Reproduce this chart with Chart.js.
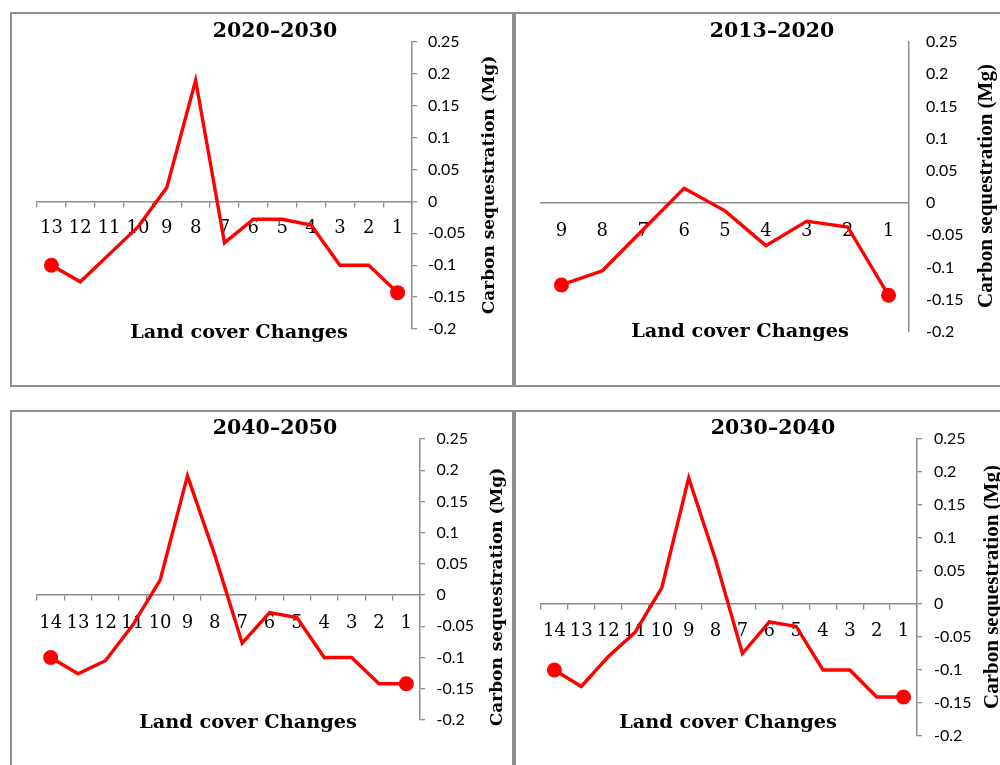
<!DOCTYPE html>
<html>
<head>
<meta charset="utf-8">
<script src="https://cdn.jsdelivr.net/npm/chart.js@4/dist/chart.umd.min.js"></script>
<style>
  html, body { margin: 0; padding: 0; background: #fff; width: 1000px; height: 765px; overflow: hidden; position: relative; }
  .panel { position: absolute; border: 2px solid #8e8e8e; box-sizing: border-box; background: #fff; }
  canvas.plot { position: absolute; }
</style>
</head>
<body>
<div class="panel" style="left:10px;top:12px;width:504px;height:375px"></div>
<div class="panel" style="left:514px;top:12px;width:500px;height:375px"></div>
<div class="panel" style="left:10px;top:410px;width:504px;height:375px"></div>
<div class="panel" style="left:514px;top:410px;width:500px;height:375px"></div>

<canvas class="plot" id="c2020" width="500" height="371" style="left:12px;top:14px"></canvas>
<canvas class="plot" id="c2013" width="496" height="371" style="left:516px;top:14px"></canvas>
<canvas class="plot" id="c2040" width="500" height="371" style="left:12px;top:412px"></canvas>
<canvas class="plot" id="c2030" width="496" height="371" style="left:516px;top:412px"></canvas>

<script>
// Land cover change classes (plotted in descending order) and carbon sequestration (Mg)
const cats2013 = ['9', '8', '7', '6', '5', '4', '3', '2', '1'];
const vals2013 = [-0.127, -0.105, -0.041, 0.023, -0.012, -0.066, -0.028, -0.037, -0.143];

const cats2020 = ['13', '12', '11', '10', '9', '8', '7', '6', '5', '4', '3', '2', '1'];
const vals2020 = [-0.1, -0.126, -0.083, -0.04, 0.022, 0.19, -0.065, -0.028, -0.028, -0.037, -0.1, -0.1, -0.143];

const cats2030 = ['14', '13', '12', '11', '10', '9', '8', '7', '6', '5', '4', '3', '2', '1'];
const vals2030 = [-0.1, -0.125, -0.08, -0.043, 0.025, 0.191, 0.067, -0.075, -0.027, -0.034, -0.1, -0.1, -0.141, -0.141];

const cats2040 = ['14', '13', '12', '11', '10', '9', '8', '7', '6', '5', '4', '3', '2', '1'];
const vals2040 = [-0.1, -0.126, -0.105, -0.048, 0.024, 0.191, 0.064, -0.077, -0.028, -0.036, -0.1, -0.1, -0.142, -0.142];

// Shared y-axis ticks
const yTickValues = [0.25, 0.2, 0.15, 0.1, 0.05, 0, -0.05, -0.1, -0.15, -0.2];
const yTickLabels = ['0.25', '0.2', '0.15', '0.1', '0.05', '0', '-0.05', '-0.1', '-0.15', '-0.2'];

const AXIS_GREY = '#8c8c8c';
const LINE_RED = '#ff0000';

// Draws the panel heading, the category axis caption and the rotated value-axis caption
const panelText = {
  id: 'panelText',
  afterDraw(chart, args, o) {
    const ctx = chart.ctx;
    ctx.save();
    ctx.fillStyle = '#000';
    ctx.textAlign = 'center';
    ctx.textBaseline = 'middle';
    ctx.font = o.titleFont;
    ctx.fillText(o.title, o.titleX, o.titleY);
    ctx.font = o.xTitleFont;
    ctx.fillText(o.xTitle, o.xTitleX, o.xTitleY);
    ctx.translate(o.yTitleX, o.yTitleY);
    ctx.rotate(-Math.PI / 2);
    ctx.font = o.yTitleFont;
    ctx.fillText(o.yTitle, 0, 0);
    ctx.restore();
  }
};

function makePanel(id, cats, vals, cfg) {
  const n = vals.length;
  return new Chart(document.getElementById(id), {
    type: 'line',
    data: {
      labels: cats,
      datasets: [{
        data: vals,
        borderColor: LINE_RED,
        backgroundColor: LINE_RED,
        borderWidth: 3.4,
        tension: 0,
        fill: false,
        pointRadius: ctx => (ctx.dataIndex === 0 || ctx.dataIndex === n - 1) ? 7.5 : 0,
        pointHoverRadius: 0,
        pointBorderWidth: 0,
        pointBackgroundColor: LINE_RED
      }]
    },
    options: {
      responsive: false,
      animation: false,
      devicePixelRatio: 1,
      layout: { padding: cfg.padding },
      plugins: {
        legend: { display: false },
        tooltip: { enabled: false },
        panelText: cfg.text
      },
      scales: {
        x: {
          type: 'category',
          position: { y: 0 },
          offset: true,
          grid: {
            drawOnChartArea: false,
            drawTicks: cfg.ticks,
            tickLength: 5,
            color: AXIS_GREY,
            lineWidth: 1.3,
            offset: true
          },
          border: { display: true, color: AXIS_GREY, width: 1.5 },
          ticks: {
            autoSkip: false,
            maxRotation: 0,
            minRotation: 0,
            padding: cfg.xPad,
            color: '#000',
            font: { family: '"DejaVu Serif"', size: 18 }
          }
        },
        y: {
          position: 'right',
          min: -0.2,
          max: 0.25,
          afterBuildTicks: s => { s.ticks = yTickValues.map(v => ({ value: v })); },
          afterFit: s => { s.width = 60; },
          grid: {
            drawOnChartArea: false,
            drawTicks: cfg.ticks,
            tickLength: 5,
            color: AXIS_GREY,
            lineWidth: 1.3
          },
          border: { display: true, color: AXIS_GREY, width: 1.5 },
          ticks: {
            padding: cfg.yPad,
            color: '#000',
            font: { family: 'Lato', size: 16 },
            callback: v => {
              const i = yTickValues.findIndex(t => Math.abs(t - v) < 1e-9);
              return i >= 0 ? yTickLabels[i] : '';
            }
          }
        }
      }
    },
    plugins: [panelText]
  });
}

const TITLE_FONT = 'bold 20.5px "DejaVu Serif"';
const XTITLE_FONT = 'bold 19.3px "DejaVu Serif"';
const YTITLE_FONT_A = 'bold 17px "DejaVu Serif"';
const YTITLE_FONT_B = 'bold 21px "Liberation Serif"';
const XTITLE = 'Land cover Changes';
const YTITLE = 'Carbon sequestration (Mg)';

makePanel('c2020', cats2020, vals2020, {
  padding: { left: 25, top: 28, bottom: 56, right: 40 },
  ticks: true, xPad: 11.5, yPad: 11,
  text: { title: '2020–2030', titleFont: TITLE_FONT, titleX: 263, titleY: 18,
          xTitle: XTITLE, xTitleFont: XTITLE_FONT, xTitleX: 227, xTitleY: 319,
          yTitle: YTITLE, yTitleFont: YTITLE_FONT_A, yTitleX: 478, yTitleY: 171 }
});

makePanel('c2013', cats2013, vals2013, {
  padding: { left: 25, top: 28, bottom: 53, right: 43 },
  ticks: false, xPad: 17, yPad: 17,
  text: { title: '2013–2020', titleFont: TITLE_FONT, titleX: 256, titleY: 18,
          xTitle: XTITLE, xTitleFont: XTITLE_FONT, xTitleX: 224, xTitleY: 318,
          yTitle: YTITLE, yTitleFont: YTITLE_FONT_B, yTitleX: 471, yTitleY: 172 }
});

makePanel('c2040', cats2040, vals2040, {
  padding: { left: 25, top: 27, bottom: 63, right: 32 },
  ticks: true, xPad: 12, yPad: 11.5,
  text: { title: '2040–2050', titleFont: TITLE_FONT, titleX: 263, titleY: 17,
          xTitle: XTITLE, xTitleFont: XTITLE_FONT, xTitleX: 236, xTitleY: 311,
          yTitle: YTITLE, yTitleFont: YTITLE_FONT_A, yTitleX: 486, yTitleY: 185 }
});

makePanel('c2030', cats2030, vals2030, {
  padding: { left: 25, top: 27, bottom: 47, right: 35 },
  ticks: true, xPad: 11.5, yPad: 12,
  text: { title: '2030–2040', titleFont: TITLE_FONT, titleX: 257, titleY: 17,
          xTitle: XTITLE, xTitleFont: XTITLE_FONT, xTitleX: 212, xTitleY: 311,
          yTitle: YTITLE, yTitleFont: YTITLE_FONT_B, yTitleX: 477, yTitleY: 175 }
});
</script>
</body>
</html>
